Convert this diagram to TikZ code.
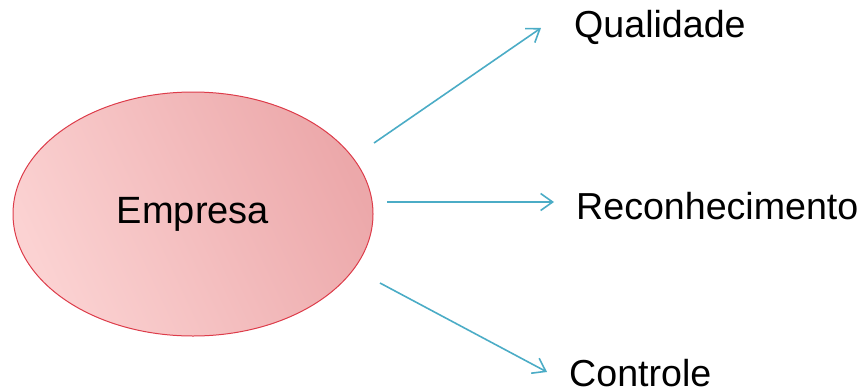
\documentclass[tikz,border=0pt]{standalone}
\usepackage{fontspec}
\setmainfont{Liberation Sans}
\usetikzlibrary{shapes.geometric,arrows.meta}
\definecolor{arrowblue}{HTML}{4BACC6}
\definecolor{pinkL}{HTML}{FBD2D2}
\definecolor{pinkM}{HTML}{F7B6B8}
\definecolor{pinkD}{HTML}{ECA8AA}
\definecolor{ringred}{HTML}{DD3C4A}
\tikzset{
  conn/.style={draw=arrowblue, line width=1.6pt, -{Straight Barb[length=12pt,width=17pt,line width=1.6pt]}},
  lbl/.style={anchor=base west, inner sep=0pt, font=\fontsize{37.6}{44}\selectfont},
  hub/.style={ellipse, draw=ringred, line width=1pt, minimum width=360pt, minimum height=244pt, inner sep=0pt,
    shading=axis, left color=pinkL, middle color=pinkM, right color=pinkD, shading angle=115, font=\fontsize{38}{44}\selectfont}
}
\begin{document}
\begin{tikzpicture}[x=1pt,y=-1pt]
\useasboundingbox (0,0) rectangle (866,391);
\node[hub] (emp) at (193,214) {Empresa};
\coordinate (s1) at (374,143);
\coordinate (e1) at (541,28);
\coordinate (s2) at (387,202);
\coordinate (e2) at (554,202);
\coordinate (s3) at (380,283);
\coordinate (e3) at (547,372);
\node[lbl] (q) at (574,37) {Qualidade};
\node[lbl] (r) at (576,219) {Reconhecimento};
\node[lbl] (c) at (569,386) {Controle};
\draw[conn] (s1) -- (e1);
\draw[conn] (s2) -- (e2);
\draw[conn] (s3) -- (e3);
\end{tikzpicture}
\end{document}
